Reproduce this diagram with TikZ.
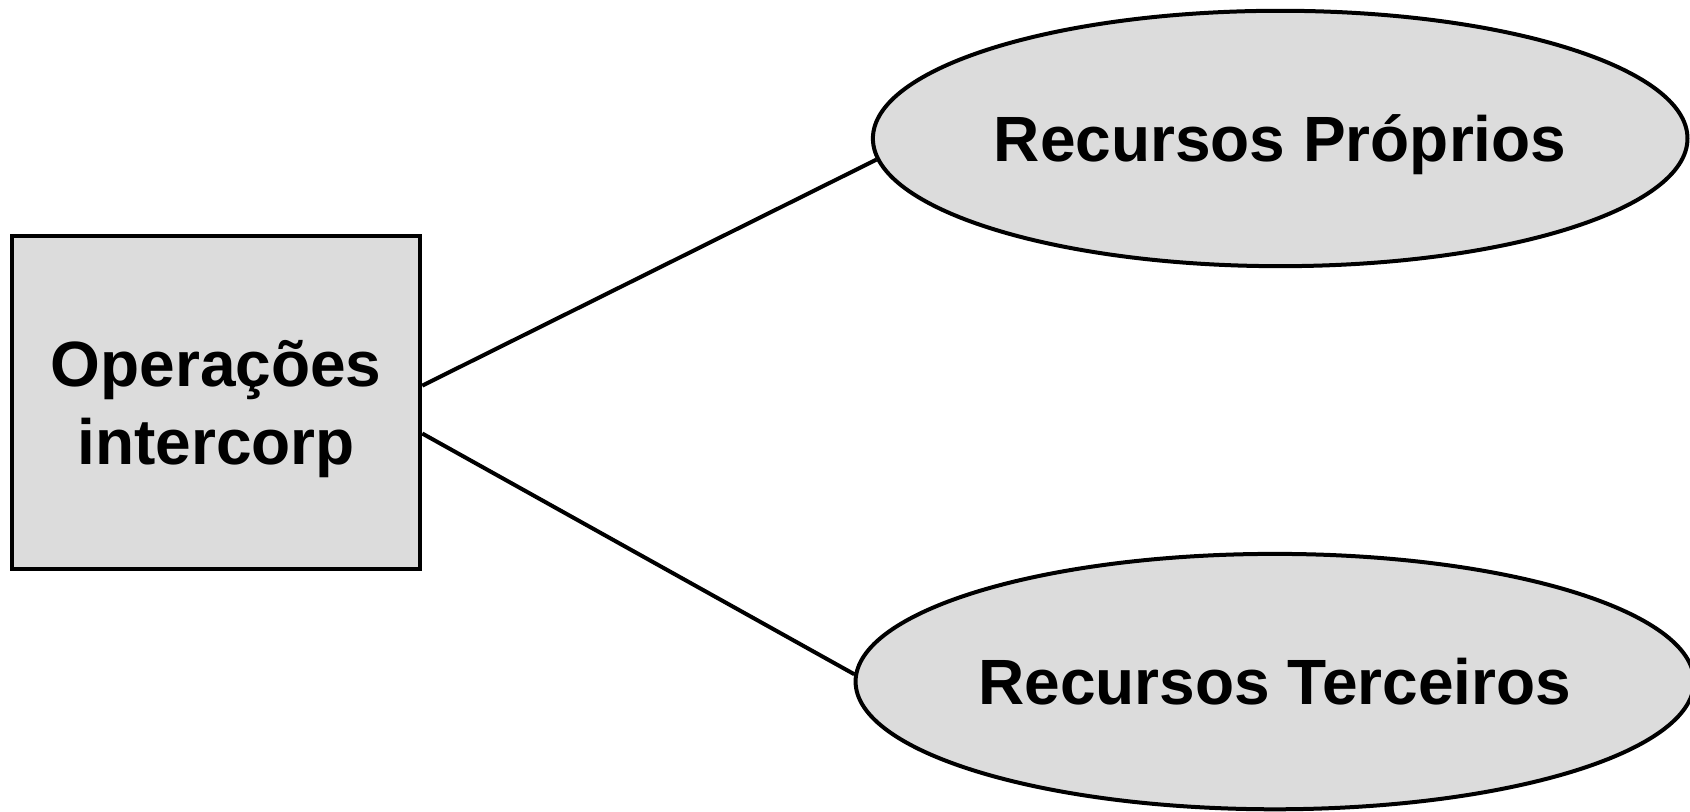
\documentclass[tikz,border=0pt]{standalone}
\usepackage{fontspec}
\setmainfont{Liberation Sans}
\usetikzlibrary{shapes.geometric,calc}
\definecolor{boxgray}{HTML}{DCDCDC}
\begin{document}
\begin{tikzpicture}[x=0.5388pt,y=-0.5388pt,
  txt/.style={inner sep=0pt,font=\fontsize{32}{39}\selectfont\bfseries},
  base/.style={draw=black,line width=2pt,fill=boxgray,inner sep=0pt},
  rectnode/.style={base,rectangle,minimum width=204.2pt,minimum height=166.5pt},
  ellnode/.style={base,ellipse,txt,text height=23pt,text depth=0pt},
  conn/.style={line width=2pt}]
\useasboundingbox (0,0) rectangle (1568.3,752.6);
\node[rectnode] (op) at (200.5,373.5) {};
\node[txt,align=center] (optext) at (200.5,380) {Operações\\intercorp};
\node[ellnode,minimum width=407.3pt,minimum height=127.7pt] (rp) at (1188,128.5) {Recursos Próprios};
\node[ellnode,minimum width=411.3pt,minimum height=127.7pt] (rt) at (1183,632.5) {Recursos Terceiros};
\draw[conn] ($(op.north east)!0.45!(op.south east)$) -- (rp.183);
\draw[conn] ($(op.north east)!0.592!(op.south east)$) -- (rt.179.3);
\end{tikzpicture}
\end{document}
